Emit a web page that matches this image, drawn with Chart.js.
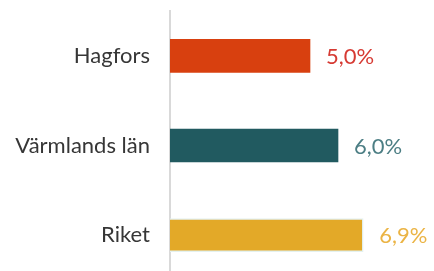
<!DOCTYPE html>
<html>
<head>
<meta charset="utf-8">
<script src="https://cdn.jsdelivr.net/npm/chart.js@4"></script>
<style>
html,body{margin:0;padding:0;background:#fff;overflow:hidden;}
#wrap{position:absolute;left:0;top:0;width:434px;height:280px;}
</style>
</head>
<body>
<div id="wrap"><canvas id="c" width="434" height="280"></canvas></div>
<script>
const categories = ["Hagfors", "Värmlands län", "Riket"];
const values = [5.0, 6.0, 6.9];
const valueLabels = ["5,0%", "6,0%", "6,9%"];
const barColors = ["#D8400F", "#215A60", "#E3A928"];
const labelColors = ["#D63A33", "#4C7E84", "#EBB445"];
const borderColors = ["#D8400F", "#215A60", "#E4F1EF"];

const valueLabelPlugin = {
  id: 'valueLabels',
  afterDatasetsDraw(chart) {
    const ctx = chart.ctx;
    const meta = chart.getDatasetMeta(0);
    ctx.save();
    ctx.font = '22px Lato';
    ctx.textBaseline = 'middle';
    ctx.textAlign = 'left';
    meta.data.forEach((el, i) => {
      ctx.fillStyle = labelColors[i];
      ctx.fillText(valueLabels[i], el.x + 16, el.y + 1);
    });
    ctx.restore();
  }
};

new Chart(document.getElementById('c'), {
  type: 'bar',
  data: {
    labels: categories,
    datasets: [{
      data: values,
      backgroundColor: barColors,
      borderColor: borderColors,
      borderWidth: [0, 0, 1.5],
      borderSkipped: 'left',
      barThickness: 33
    }]
  },
  options: {
    indexAxis: 'y',
    responsive: false,
    maintainAspectRatio: false,
    animation: false,
    layout: { padding: { top: 11, right: 12, left: 0, bottom: 0 } },
    plugins: { legend: { display: false }, tooltip: { enabled: false } },
    scales: {
      x: { display: false, min: 0, max: 9 },
      y: {
        grid: { display: false, drawTicks: false },
        border: { display: true, color: '#D9D9D9', width: 2 },
        ticks: { color: '#363636', font: { family: 'Lato', size: 22 }, padding: 20 },
        afterFit(scale) { scale.width = 170; scale.paddingTop = 0; scale.paddingBottom = 0; }
      }
    }
  },
  plugins: [valueLabelPlugin]
});
</script>
</body>
</html>
